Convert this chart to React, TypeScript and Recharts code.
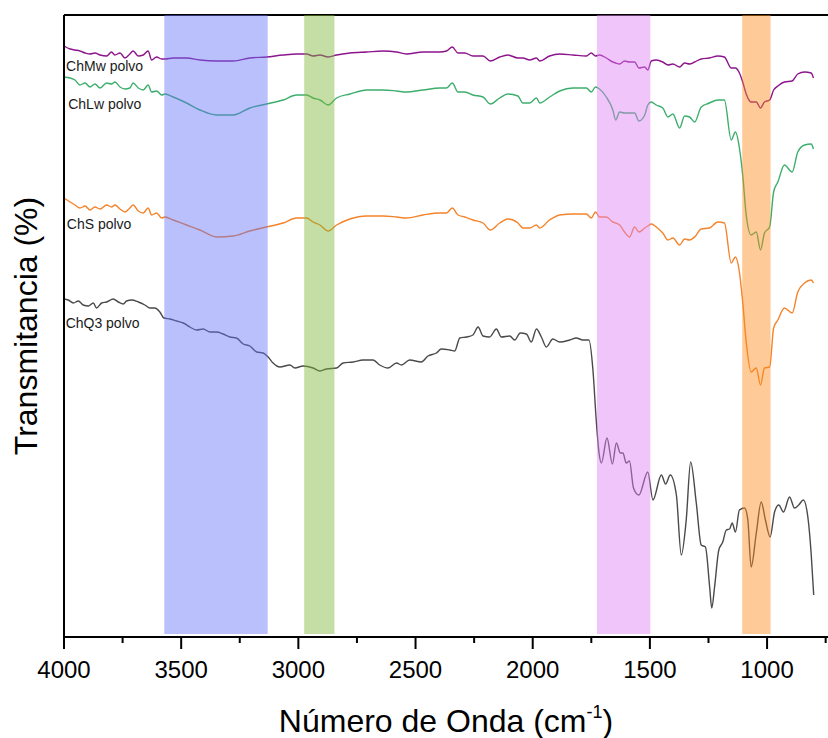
import {
  Label,
  Line,
  LineChart,
  ReferenceArea,
  ReferenceDot,
  ReferenceLine,
  XAxis,
  YAxis,
} from "recharts";

const FONT = '"Liberation Sans", Arial, Helvetica, sans-serif';

// wavenumber grid (cm-1) shared by the three upper spectra
const waveGrid = [
  4000, 3974, 3953, 3932, 3910, 3889, 3868, 3846, 3818, 3797,
  3783, 3761, 3740, 3719, 3705, 3683, 3662, 3641, 3626, 3605,
  3583, 3569, 3534, 3477, 3420, 3349, 3278, 3207, 3136, 3065,
  3008, 2965, 2937, 2908, 2873, 2837, 2780, 2709, 2638, 2581,
  2539, 2468, 2397, 2368, 2343, 2319, 2290, 2255, 2212, 2181,
  2141, 2106, 2063, 2042, 2013, 1984, 1970, 1928, 1885, 1828,
  1771, 1750, 1732, 1715, 1686, 1658, 1646, 1629, 1608, 1587,
  1565, 1547, 1522, 1509, 1494, 1473, 1445, 1423, 1402, 1373,
  1352, 1331, 1309, 1281, 1246, 1210, 1182, 1153, 1135, 1118,
  1104, 1089, 1068, 1046, 1028, 1011, 989, 972, 954, 926,
  893, 869, 840, 812, 802,
];

// transmittance, arbitrary units (curves are offset)
const chmw = [
  591, 588, 587, 586, 584, 583, 584, 582, 581, 585,
  582, 584, 579, 583, 586, 581, 582, 586, 577, 580,
  578, 578, 579, 579, 577, 576, 576, 579, 580, 582,
  583, 583, 581, 582, 580, 582, 584, 585, 586, 585,
  583, 585, 585, 586, 590, 584, 584, 581, 581, 576,
  580, 582, 579, 579, 577, 579, 576, 581, 583, 582,
  581, 584, 581, 582, 579, 575, 574, 573, 576, 575,
  575, 569, 570, 567, 576, 577, 575, 572, 573, 570,
  574, 573, 575, 578, 579, 581, 580, 569, 569, 564,
  555, 543, 535, 535, 529, 535, 537, 547, 551, 555,
  556, 563, 565, 564, 559,
];

const chlw = [
  560, 559, 557, 552, 554, 550, 553, 549, 554, 553,
  555, 550, 548, 549, 554, 549, 547, 552, 545, 546,
  542, 543, 540, 534, 527, 522, 522, 529, 533, 537,
  542, 542, 539, 537, 532, 539, 543, 547, 547, 546,
  545, 547, 549, 549, 554, 545, 545, 542, 540, 533,
  539, 543, 541, 534, 534, 539, 534, 540, 546, 549,
  549, 545, 550, 548, 540, 527, 517, 525, 524, 524,
  524, 516, 522, 532, 535, 532, 529, 520, 523, 509,
  521, 520, 515, 530, 534, 537, 537, 497, 505, 489,
  462, 422, 402, 405, 387, 404, 410, 445, 455, 472,
  465, 485, 492, 493, 488,
];

const chs = [
  439, 435, 432, 429, 431, 427, 430, 428, 432, 430,
  432, 428, 425, 429, 432, 426, 424, 429, 422, 424,
  419, 420, 417, 412, 407, 400, 401, 406, 410, 414,
  419, 419, 415, 412, 406, 412, 418, 421, 421, 420,
  419, 422, 424, 424, 429, 422, 420, 417, 414, 407,
  414, 418, 414, 409, 409, 412, 409, 417, 422, 423,
  423, 419, 425, 420, 420, 415, 414, 412, 405, 400,
  410, 405, 409, 411, 413, 410, 404, 397, 399, 392,
  398, 397, 400, 408, 409, 415, 414, 374, 380, 365,
  335, 295, 265, 269, 252, 269, 270, 309, 317, 329,
  324, 345, 354, 357, 354,
];

const waveQ3 = [
  4000, 3982, 3960, 3939, 3918, 3896, 3875, 3861, 3839, 3818,
  3790, 3768, 3747, 3733, 3711, 3683, 3655, 3633, 3612, 3591,
  3574, 3548, 3519, 3491, 3463, 3434, 3406, 3377, 3349, 3321,
  3292, 3264, 3235, 3207, 3178, 3150, 3129, 3108, 3079, 3036,
  3015, 2980, 2937, 2908, 2880, 2837, 2809, 2766, 2724, 2681,
  2653, 2617, 2581, 2560, 2525, 2475, 2447, 2411, 2390, 2354,
  2333, 2311, 2283, 2255, 2233, 2212, 2184, 2155, 2134, 2098,
  2077, 2053, 2027, 2006, 1984, 1963, 1942, 1914, 1885, 1842,
  1814, 1786, 1760, 1743, 1729, 1717, 1707, 1683, 1660, 1643,
  1626, 1615, 1601, 1587, 1570, 1547, 1509, 1487, 1451, 1433,
  1413, 1387, 1366, 1345, 1326, 1302, 1281, 1263, 1245, 1236,
  1224, 1206, 1189, 1174, 1160, 1149, 1135, 1118, 1096, 1082,
  1068, 1046, 1025, 1007, 987, 968, 950, 930, 904, 883,
  865, 845, 826, 812, 801,
];

const chq3 = [
  338, 337, 334, 336, 332, 331, 334, 329, 334, 335,
  338, 335, 333, 336, 337, 335, 332, 329, 329, 325,
  319, 318, 316, 314, 310, 307, 308, 305, 305, 303,
  300, 299, 293, 291, 285, 284, 280, 274, 270, 272,
  269, 271, 269, 266, 268, 269, 274, 275, 277, 277,
  272, 269, 274, 272, 277, 275, 281, 284, 288, 287,
  286, 299, 300, 302, 310, 301, 300, 308, 300, 301,
  297, 304, 303, 295, 308, 300, 290, 298, 295, 297,
  299, 297, 297, 267, 217, 184, 174, 199, 173, 194,
  184, 184, 174, 176, 149, 142, 165, 137, 162, 153,
  162, 142, 82, 117, 175, 134, 92, 90, 50, 29,
  50, 87, 95, 107, 108, 114, 105, 127, 129, 117,
  70, 104, 135, 117, 100, 125, 132, 125, 140, 129,
  132, 137, 120, 84, 42,
];

// highlighted absorption regions (cm-1)
const bandFrom = [3572, 2975, 1726, 1106];
const bandTo = [3131, 2846, 1498, 985];

const seriesNames = ["ChMw polvo", "ChLw polvo", "ChS polvo", "ChQ3 polvo"];
const labelWave = [3991, 3982, 3988, 3993];
const labelLevel = [566, 528, 408, 309];

const xTicks = [
  4000, 3750, 3500, 3250, 3000, 2750, 2500, 2250, 2000, 1750, 1500, 1250, 1000, 750,
];

const lineColors = ["#8c148c", "#3cae6c", "#f5832a", "#4a4a4a"];
const bandColors = ["#6373f8", "#7fb637", "#de80f4", "#fa8a1a"];

const toPoints = (w: number[], t: number[]) => w.map((x, i) => ({ w: x, t: t[i] }));

const spectra = [
  toPoints(waveGrid, chmw),
  toPoints(waveGrid, chlw),
  toPoints(waveGrid, chs),
  toPoints(waveQ3, chq3),
];

const WaveTick = (props: any) => {
  const { x, y, payload } = props;
  const major = payload.value % 500 === 0;
  return (
    <g>
      <line x1={x} x2={x} y1={y} y2={y + (major ? 12 : 6)} stroke="#000" strokeWidth={2} />
      {major && (
        <text x={x} y={y + 41} textAnchor="middle" fontFamily={FONT} fontSize={24} fill="#000">
          {payload.value}
        </text>
      )}
    </g>
  );
};

const XTitle = (props: any) => {
  const vb = props.viewBox || {};
  const cx = (vb.x ?? 64) + (vb.width ?? 764) / 2;
  const y = (vb.y ?? 637) + 95;
  return (
    <text x={cx} y={y} textAnchor="middle" fontFamily={FONT} fontSize={32} fill="#000">
      Número de Onda (cm
      <tspan fontSize={18} dy={-14}>
        -1
      </tspan>
      <tspan dy={14}>)</tspan>
    </text>
  );
};

const YTitle = (props: any) => {
  const vb = props.viewBox || {};
  const cy = (vb.y ?? 15) + (vb.height ?? 622) / 2;
  return (
    <text
      x={37}
      y={cy}
      transform={`rotate(-90, 37, ${cy})`}
      textAnchor="middle"
      fontFamily={FONT}
      fontSize={32}
      fill="#000"
    >
      Transmitancia (%)
    </text>
  );
};

export default function App() {
  return (
    <div style={{ position: "absolute", left: 0, top: 0, width: 828, height: 738, background: "#fff" }}>
      <LineChart width={828} height={738} margin={{ top: 15, right: 0, bottom: 0, left: 0 }}>
        <XAxis
          dataKey="w"
          type="number"
          domain={[740, 4000]}
          reversed
          allowDataOverflow
          ticks={xTicks}
          interval={0}
          tickSize={0}
          tickMargin={0}
          tickLine={false}
          tick={WaveTick}
          height={101}
          axisLine={{ stroke: "#000", strokeWidth: 2 }}
        >
          <Label content={XTitle} />
        </XAxis>
        <YAxis
          type="number"
          domain={[0, 622]}
          width={64}
          tick={false}
          tickLine={false}
          axisLine={{ stroke: "#000", strokeWidth: 2 }}
        >
          <Label content={YTitle} />
        </YAxis>
        <ReferenceLine y={622} stroke="#000" strokeWidth={2} />
        {spectra.map((pts, i) => (
          <Line
            key={seriesNames[i]}
            data={pts}
            dataKey="t"
            type="monotone"
            stroke={lineColors[i]}
            strokeWidth={1.4}
            dot={false}
            isAnimationActive={false}
          />
        ))}
        {bandFrom.map((from, i) => (
          <ReferenceArea
            key={from}
            x1={from}
            x2={bandTo[i]}
            y1={3}
            y2={622}
            fill={bandColors[i]}
            fillOpacity={0.45}
            stroke="none"
            zIndex={450}
          />
        ))}
        {seriesNames.map((name, i) => (
          <ReferenceDot
            key={name}
            x={labelWave[i]}
            y={labelLevel[i]}
            r={0}
            shape={(p: any) => (
              <text x={p.cx} y={p.cy} fontFamily={FONT} fontSize={14} fill="#1a1a1a">
                {name}
              </text>
            )}
          />
        ))}
      </LineChart>
    </div>
  );
}
